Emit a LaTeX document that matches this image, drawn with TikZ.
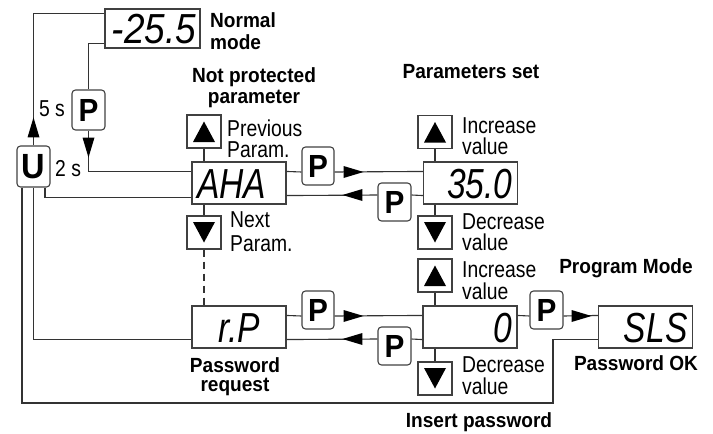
\documentclass[tikz,border=0pt]{standalone}
\usepackage{fontspec}
\setmainfont{Liberation Sans}
\newfontfamily\regfont[FakeStretch=0.84]{Liberation Sans}
\newfontfamily\bldfont[FakeStretch=0.93]{Liberation Sans}
\newfontfamily\segfont[FakeStretch=0.8]{Liberation Sans}
\newfontfamily\segwidefont[FakeStretch=0.88]{Liberation Sans}
\usetikzlibrary{calc}

\begin{document}
\begin{tikzpicture}[x=1pt,y=-1pt,
  wire/.style={line width=1.1pt, draw=black!80},
  head/.style={fill=black},
  disp/.style={draw=black!75, line width=1.1pt,
    font=\segfont\itshape\fontsize{42}{42}\selectfont,
    text height=30pt, text depth=0pt, inner xsep=5pt, inner ysep=6pt,
    text width=84pt},
  key/.style={draw=black!75, line width=1.1pt, rounded corners=3.5pt,
    minimum width=32pt, minimum height=38pt, inner sep=0pt,
    font=\bldfont\bfseries\fontsize{32}{32}\selectfont},
  btn/.style={draw=black!75, line width=1.1pt, minimum width=34pt,
    minimum height=33pt, inner sep=0pt},
  upbtn/.style={btn, path picture={\fill[black]
    ($(path picture bounding box.center)+(0,-10)$) -- ++(11,20.5) -- ++(-22,0) -- cycle;}},
  dnbtn/.style={btn, path picture={\fill[black]
    ($(path picture bounding box.center)+(0,10)$) -- ++(11,-20.5) -- ++(-22,0) -- cycle;}},
  rl/.style={font=\regfont\fontsize{23}{21}\selectfont, align=left,
    inner sep=0pt, anchor=north west},
  bl/.style={font=\bldfont\bfseries\fontsize{20.5}{21}\selectfont,
    align=center, inner sep=0pt, anchor=north}
]
\useasboundingbox (0,0) rectangle (713,434);

% displays
\node[disp, align=right, inner ysep=4.5pt, inner xsep=4pt, text width=87pt,
  font=\segwidefont\itshape\fontsize{42}{42}\selectfont] (nm) at (152.5,28.5) {\mbox{-25.5}};
\node[disp, align=left] (ah) at (239,183) {AHA};
\node[disp, align=right] (pv) at (470.5,183) {35.0};
\node[disp, align=center] (rp) at (239,327) {r.P};
\node[disp, align=right] (pw) at (470,327) {0};
\node[disp, align=right] (sl) at (645.5,327) {SLS};

% keys
\node[key, minimum width=33pt, minimum height=41pt,
  font=\bldfont\bfseries\fontsize{35}{35}\selectfont] (bu) at (33.5,166.5) {U};
\node[key, minimum width=33pt, minimum height=40pt] (p5) at (88.5,110) {P};
\node[key] (pa1) at (318,166) {P};
\node[key, minimum width=33pt] (pb1) at (394.5,202) {P};
\node[key] (pa2) at (318,310) {P};
\node[key, minimum width=33pt] (pb2) at (394.5,346) {P};
\node[key, minimum width=33pt] (pa3) at (546.5,310) {P};

% arrow buttons
\node[upbtn] (up1) at (204,131.5) {};
\node[dnbtn] (dn1) at (204,232.5) {};
\node[upbtn] (up2) at (435,132) {};
\node[dnbtn] (dn2) at (435,232.5) {};
\node[upbtn] (up3) at (435,275.5) {};
\node[dnbtn] (dn3) at (435,378.5) {};

% timed keys around normal mode
\draw[wire] (bu.north) |- ($(nm.north west)+(0,5)$);
\fill[head] ($(bu.north)+(0,-28)$) -- ++(-6,20) -- ++(12,0) -- cycle;
\draw[wire] ($(nm.south west)+(0,-5)$) -| (p5.north);
\draw[wire] (p5.south) |- ($(ah.north west)+(0,10)$);
\fill[head] ($(p5.south)+(0,27)$) -- ++(-6,-20) -- ++(12,0) -- cycle;

% exits through U
\coordinate (lowturn) at (553,403);
\draw[wire] ($(bu.south)+(-11.5,0)$) |- (lowturn) |- ($(sl.south west)+(0,-9)$);
\draw[wire] (bu.south) |- ($(rp.south west)+(0,-9)$);
\draw[wire] ($(bu.south)+(11.5,0)$) |- ($(ah.south west)+(0,-7)$);

% parameter row
\draw[wire] ($(ah.north east)+(0,10)$) -- ($(pa1.west)+(0,6)$);
\draw[wire] ($(pa1.east)+(0,6)$) -- ($(pv.north west)+(0,10)$);
\fill[head] ($(pa1.east)+(29,6)$) -- ++(-20,-6) -- ++(0,12) -- cycle;
\draw[wire] ($(pv.south west)+(0,-9)$) -- ($(pb1.east)+(0,-7)$);
\draw[wire] ($(pb1.west)+(0,-7)$) -- ($(ah.south east)+(0,-9)$);
\fill[head] ($(pb1.west)+(-35,-7)$) -- ++(20,-6) -- ++(0,12) -- cycle;

% password row
\draw[wire] ($(rp.north east)+(0,10)$) -- ($(pa2.west)+(0,6)$);
\draw[wire] ($(pa2.east)+(0,6)$) -- ($(pw.north west)+(0,10)$);
\fill[head] ($(pa2.east)+(29,6)$) -- ++(-20,-6) -- ++(0,12) -- cycle;
\draw[wire] ($(pw.south west)+(0,-9)$) -- ($(pb2.east)+(0,-7)$);
\draw[wire] ($(pb2.west)+(0,-7)$) -- ($(rp.south east)+(0,-9)$);
\fill[head] ($(pb2.west)+(-35,-7)$) -- ++(20,-6) -- ++(0,12) -- cycle;
\draw[wire] ($(pw.north east)+(0,10)$) -- ($(pa3.west)+(0,6)$);
\draw[wire] ($(pa3.east)+(0,6)$) -- ($(sl.north west)+(0,10)$);
\fill[head] ($(pa3.east)+(28,6)$) -- ++(-20,-6) -- ++(0,12) -- cycle;

% button stems
\draw[wire] (up1.south) -- (up1.south |- ah.north);
\draw[wire] (dn1.north) -- (dn1.north |- ah.south);
\draw[wire, dash pattern=on 7pt off 5pt] (dn1.south) -- (dn1.south |- rp.north);
\draw[wire] (up2.south) -- (up2.south |- pv.north);
\draw[wire] (dn2.north) -- (dn2.north |- pv.south);
\draw[wire] (up3.south) -- (up3.south |- pw.north);
\draw[wire] (dn3.north) -- (dn3.north |- pw.south);

% captions
\node[bl, anchor=north west, align=left,
  font=\bldfont\bfseries\fontsize{20.5}{22}\selectfont] (lnormal) at (210,12) {Normal\\mode};
\node[bl] (lnotprot) at (254,67) {Not protected\\parameter};
\node[bl] (lparset) at (471,64) {Parameters set};
\node[bl] (lprog) at (626,258) {Program Mode};
\node[bl] (lpwok) at (636,355) {Password OK};
\node[bl] (lins) at (479,412) {Insert password};
\node[bl, font=\bldfont\bfseries\fontsize{20.5}{19.5}\selectfont] (lpwreq) at (235,357) {Password\\request};

\node[rl, font=\regfont\fontsize{23}{20.5}\selectfont] (lprev) at (227,120) {Previous\\Param.};
\node[rl, font=\regfont\fontsize{23}{23.5}\selectfont] (lnext) at (230,211.5) {Next\\Param.};
\node[rl] (linc1) at (462,117.5) {Increase\\value};
\node[rl] (ldec1) at (462,213.5) {Decrease\\value};
\node[rl, font=\regfont\fontsize{23}{22}\selectfont] (linc2) at (462,261.5) {Increase\\value};
\node[rl, font=\regfont\fontsize{23}{22}\selectfont] (ldec2) at (462,356.5) {Decrease\\value};
\node[rl, anchor=north east] (l5s) at (65,100.5) {5 s};
\node[rl] (l2s) at (55,160.5) {2 s};
\end{tikzpicture}
\end{document}
